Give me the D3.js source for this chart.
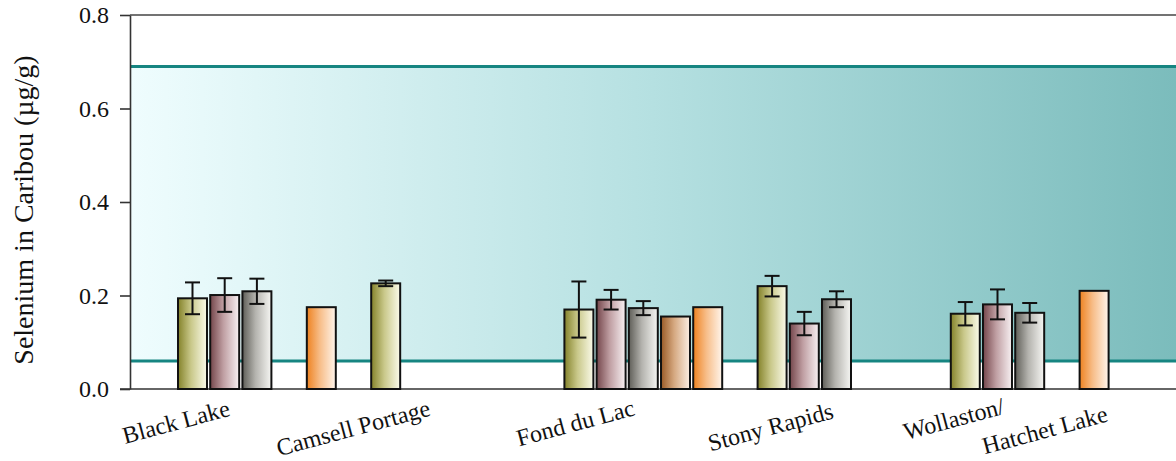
<!DOCTYPE html>
<html>
<head>
<meta charset="utf-8">
<script src="https://cdn.jsdelivr.net/npm/d3@7"></script>
</head>
<body style="margin:0;background:#fff">
<svg id="chart" width="1176" height="461" style="display:block;font-family:'Liberation Serif'"></svg>
<script>
// Communities along the x axis
const communities = ["Black Lake", "Camsell Portage", "Fond du Lac", "Stony Rapids", "Wollaston/Hatchet Lake"];
// Label lines for each community
const labelLines = [["Black Lake"], ["Camsell Portage"], ["Fond du Lac"], ["Stony Rapids"], ["Wollaston/", "Hatchet Lake"]];
// Series (sample sets); null = no sample
const seriesNames = ["s1", "s2", "s3", "s4", "s5"];
const meanS1 = [0.194, 0.226, 0.170, 0.220, 0.161];
const meanS2 = [0.201, null, 0.191, 0.140, 0.181];
const meanS3 = [0.209, null, 0.173, 0.192, 0.163];
const meanS4 = [null, null, 0.155, null, null];
const meanS5 = [0.175, null, 0.175, null, 0.210];
// Error bar half-widths (standard deviation)
const errS1 = [0.034, 0.006, 0.060, 0.022, 0.025];
const errS2 = [0.036, null, 0.021, 0.025, 0.032];
const errS3 = [0.027, null, 0.015, 0.017, 0.021];
const errS4 = [null, null, null, null, null];
const errS5 = [null, null, null, null, null];
// Reference range band
const bandLow = 0.06;
const bandHigh = 0.69;
// Y ticks
const yTicks = [0.0, 0.2, 0.4, 0.6, 0.8];

const means = [meanS1, meanS2, meanS3, meanS4, meanS5];
const errs = [errS1, errS2, errS3, errS4, errS5];

const FONT = '"Liberation Serif"';

// Series colour ramps (dark edge -> light edge)
const ramps = [
  ["#84822a", "#c9c88a", "#fbfbea"],
  ["#74464b", "#bf9ea2", "#f8f1f3"],
  ["#5f5e58", "#b4b3ae", "#f6f6f3"],
  ["#9a5a26", "#d5a880", "#fcefe4"],
  ["#ee8220", "#f7bd88", "#fff5ec"]
];

// Label placement relative to each group's left edge: [dx, y] per line
const labelPos = [
  [[-2, 422]],
  [[-18, 428]],
  [[11, 423]],
  [[13, 427]],
  [[3, 419], [94, 430]]
];

const svg = d3.select("#chart");
const W = 1176;
const margin = { left: 130, top: 15, bottom: 72 };
const plotBottom = 461 - margin.bottom;

const y = d3.scaleLinear().domain([0, 0.8]).range([plotBottom, margin.top]);

const groupStep = 193.2;
const groupStart = 178;
const x0 = d3.scaleBand().domain(communities)
  .range([groupStart, groupStart + groupStep * communities.length]).padding(0);
const x1 = d3.scaleBand().domain(seriesNames).range([0, 157.8]).paddingInner(0.1).paddingOuter(0);

const defs = svg.append("defs");
const bandGrad = defs.append("linearGradient").attr("id", "bandGrad")
  .attr("x1", "0%").attr("x2", "100%").attr("y1", "0%").attr("y2", "0%");
bandGrad.append("stop").attr("offset", "0%").attr("stop-color", "#effdfe");
bandGrad.append("stop").attr("offset", "50%").attr("stop-color", "#b5e0e1");
bandGrad.append("stop").attr("offset", "100%").attr("stop-color", "#7bbcbc");

ramps.forEach((r, i) => {
  const g = defs.append("linearGradient").attr("id", "barGrad" + i)
    .attr("x1", "0%").attr("x2", "100%").attr("y1", "0%").attr("y2", "0%");
  g.append("stop").attr("offset", "0%").attr("stop-color", r[0]);
  g.append("stop").attr("offset", "45%").attr("stop-color", r[1]);
  g.append("stop").attr("offset", "100%").attr("stop-color", r[2]);
});

// Reference band
svg.append("rect")
  .attr("x", margin.left).attr("width", W - margin.left)
  .attr("y", y(bandHigh)).attr("height", y(bandLow) - y(bandHigh))
  .attr("fill", "url(#bandGrad)");
[bandLow, bandHigh].forEach(v => {
  svg.append("line")
    .attr("x1", margin.left).attr("x2", W)
    .attr("y1", y(v)).attr("y2", y(v))
    .attr("stroke", "#168581").attr("stroke-width", 3);
});

// Frame lines (top and baseline)
svg.append("line").attr("x1", margin.left).attr("x2", W)
  .attr("y1", y(0.8)).attr("y2", y(0.8)).attr("stroke", "#444").attr("stroke-width", 1.6);
svg.append("line").attr("x1", margin.left - 10).attr("x2", W)
  .attr("y1", y(0)).attr("y2", y(0)).attr("stroke", "#333").attr("stroke-width", 1.6);

// Flatten bars
const bars = [];
communities.forEach((c, ci) => {
  seriesNames.forEach((s, si) => {
    const v = means[si][ci];
    if (v != null) bars.push({ c, s, si, v, e: errs[si][ci] });
  });
});

const barG = svg.append("g");
barG.selectAll("rect").data(bars).join("rect")
  .attr("x", d => x0(d.c) + x1(d.s))
  .attr("width", x1.bandwidth())
  .attr("y", d => y(d.v))
  .attr("height", d => y(0) - y(d.v))
  .attr("fill", d => `url(#barGrad${d.si})`)
  .attr("stroke", "#111").attr("stroke-width", 2);

// Error bars
const errG = svg.append("g").attr("stroke", "#111").attr("stroke-width", 2);
const eb = bars.filter(d => d.e != null);
const cx = d => x0(d.c) + x1(d.s) + x1.bandwidth() / 2;
errG.selectAll("line.v").data(eb).join("line").attr("class", "v")
  .attr("x1", cx).attr("x2", cx)
  .attr("y1", d => y(d.v + d.e)).attr("y2", d => y(d.v - d.e));
errG.selectAll("line.t").data(eb).join("line").attr("class", "t")
  .attr("x1", d => cx(d) - 7.5).attr("x2", d => cx(d) + 7.5)
  .attr("y1", d => y(d.v + d.e)).attr("y2", d => y(d.v + d.e));
errG.selectAll("line.b").data(eb).join("line").attr("class", "b")
  .attr("x1", d => cx(d) - 7.5).attr("x2", d => cx(d) + 7.5)
  .attr("y1", d => y(d.v - d.e)).attr("y2", d => y(d.v - d.e));

// Y axis
const yAxis = svg.append("g").attr("transform", `translate(${margin.left},0)`)
  .call(d3.axisLeft(y).tickValues(yTicks).tickFormat(d3.format(".1f"))
    .tickSize(10).tickSizeOuter(0).tickPadding(11));
yAxis.attr("font-family", FONT).attr("font-size", 24);
yAxis.selectAll("path, line").attr("stroke", "#333").attr("stroke-width", 1.6);
yAxis.selectAll("text").style("font-family", FONT)
  .style("font-size", "24px").attr("fill", "#111");

// Y title
svg.append("text")
  .attr("transform", `translate(33,210) rotate(-90)`)
  .attr("text-anchor", "middle")
  .attr("font-family", FONT)
  .style("font-family", FONT)
  .style("font-size", "28px")
  .attr("fill", "#111")
  .text("Selenium in Caribou (µg/g)");

// Category labels
communities.forEach((c, ci) => {
  labelLines[ci].forEach((line, li) => {
    const [dx, ly] = labelPos[ci][li];
    const lx = x0(c) + dx;
    svg.append("text")
      .attr("transform", `translate(${lx},${ly}) rotate(-15)`)
      .attr("text-anchor", "middle")
      .attr("dominant-baseline", "central")
      .attr("font-family", FONT)
      .style("font-family", FONT)
      .style("font-size", "24px")
      .attr("fill", "#111")
      .text(line);
  });
});
</script>
</body>
</html>
